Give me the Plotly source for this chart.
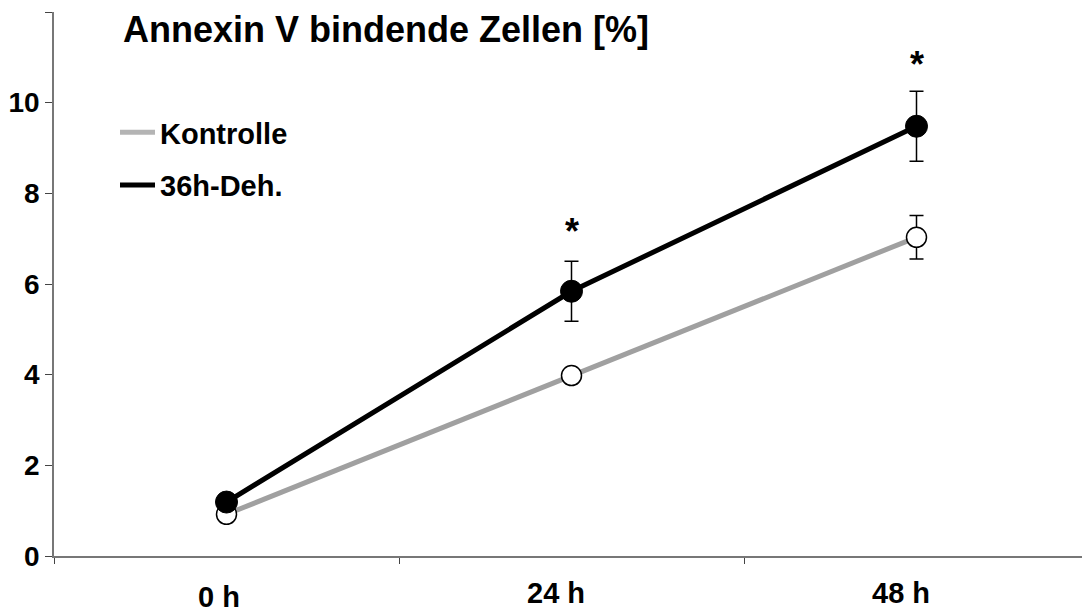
import plotly.graph_objects as go

categories = ["0 h", "24 h", "48 h"]
kontrolle = [0.92, 3.98, 7.03]
kontrolle_err = [0, 0, 0.48]
deh = [1.19, 5.84, 9.48]
deh_err = [0, 0.66, 0.77]
y_ticks = [0, 2, 4, 6, 8, 10, 12]
y_ticktext = ["0", "2", "4", "6", "8", "10", ""]
sig_labels = ["", "*", "*"]
sig_y = [None, 7.15, 10.85]

FONT = "Arial, Liberation Sans, Helvetica, sans-serif"
GRAY = "#a0a0a0"

fig = go.Figure()

fig.add_trace(go.Scatter(
    x=categories, y=kontrolle, mode="lines+markers", name="Kontrolle",
    line=dict(color=GRAY, width=5),
    marker=dict(size=20, color="white", line=dict(color="black", width=1.5)),
    error_y=dict(type="data", array=kontrolle_err, color="black", thickness=1.5, width=7),
    showlegend=False,
))
fig.add_trace(go.Scatter(
    x=categories, y=deh, mode="lines+markers", name="36h-Deh.",
    line=dict(color="black", width=5),
    marker=dict(size=22, color="black", line=dict(color="black", width=1)),
    error_y=dict(type="data", array=deh_err, color="black", thickness=1.5, width=7),
    showlegend=False,
))
# legend-only entries (lines only)
fig.add_trace(go.Scatter(x=[None], y=[None], mode="lines", name="<b>Kontrolle</b>",
                         line=dict(color="#b4b4b4", width=5), legendgroup="a"))
fig.add_trace(go.Scatter(x=[None], y=[None], mode="lines", name="<b>36h-Deh.</b>",
                         line=dict(color="black", width=5), legendgroup="b"))

# significance asterisks
for c, s, yv in zip(categories, sig_labels, sig_y):
    if s:
        fig.add_annotation(x=c, y=yv, xref="x", yref="y", text=f"<b>{s}</b>",
                           showarrow=False, font=dict(family=FONT, size=36, color="black"))

# x category labels (0 h sits slightly lower)
for i, c in enumerate(categories):
    fig.add_annotation(x=c, y=0, xref="x", yref="paper", text=f"<b>{c}</b>",
                       showarrow=False, yanchor="middle",
                       yshift=-41 if i == 0 else -37,
                       xshift=-8 if i == 0 else -16,
                       font=dict(family=FONT, size=29, color="black"))

fig.update_layout(
    width=1082, height=613,
    margin=dict(l=54, r=0, t=12, b=57),
    paper_bgcolor="white", plot_bgcolor="white",
    font=dict(family=FONT, color="black"),
    title=dict(text="<b>Annexin V bindende Zellen [%]</b>", x=123/1082, xanchor="left",
               xref="container", y=1-29/613, yanchor="middle", yref="container",
               font=dict(family=FONT, size=36, color="black")),
    legend=dict(x=(115-54)/1028, y=1-(107-12)/544, xanchor="left", yanchor="top",
                bgcolor="rgba(0,0,0,0)", font=dict(family=FONT, size=29, color="black"),
                itemwidth=35, tracegroupgap=12, traceorder="grouped"),
    xaxis=dict(type="category", categoryorder="array", categoryarray=categories,
               range=[-0.5, -0.5 + 1028/345], showgrid=False, zeroline=False,
               showline=True, linecolor="#777777", linewidth=1.5,
               ticks="outside", tickson="boundaries", ticklen=6, tickcolor="#444444", tickwidth=1,
               showticklabels=False),
    yaxis=dict(range=[0, 12], tickvals=y_ticks, ticktext=[f"<b>{t}</b>" if t else "" for t in y_ticktext],
               showgrid=False, zeroline=False, showline=True, linecolor="#777777", linewidth=1.5,
               ticks="outside", ticklen=7, tickcolor="#444444", tickwidth=1,
               tickfont=dict(family=FONT, size=28, color="black")),
)

fig.write_html("out.html")
